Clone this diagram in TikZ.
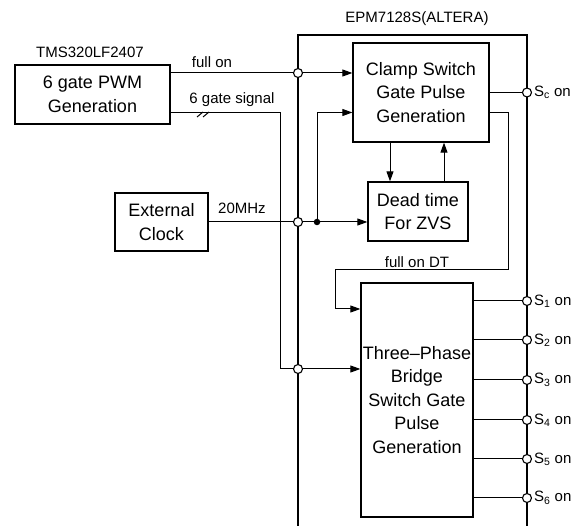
\documentclass[tikz,border=0pt]{standalone}
\usepackage{fontspec}
\setmainfont{Liberation Sans}
\usetikzlibrary{arrows.meta, positioning, calc}

\begin{document}
\begin{tikzpicture}[x=1pt, y=-1pt,
    block/.style={draw, line width=1.3pt, inner sep=1pt, align=center, font=\fontsize{18}{23.5}\selectfont},
    lbl/.style={font=\fontsize{15}{18}\selectfont, inner sep=1pt},
    wire/.style={line width=1pt},
    arr/.style={wire, -{Triangle[length=10pt, width=7pt]}},
    jct/.style={circle, draw, line width=1.1pt, fill=white, inner sep=0pt, minimum size=9pt},
    dotj/.style={circle, fill, inner sep=0pt, minimum size=6.5pt}
  ]
  \useasboundingbox (0,0) rectangle (582,526);

  % Blocks
  \node[block, minimum width=155pt, minimum height=59pt] (pwm) at (92.5,94.5) {6 gate PWM\\Generation};
  \node[block, minimum width=93pt, minimum height=58pt] (clk) at (161.5,222) {External\\Clock};
  \node[block, minimum width=136pt, minimum height=99pt] (clamp) at (421,92.5) {Clamp Switch\\Gate Pulse\\Generation};
  \node[block, minimum width=100pt, minimum height=59pt] (dead) at (418,211.5) {Dead time\\For ZVS};
  \node[block, minimum width=112pt, minimum height=234pt] (bridge) at (417,400) {Three--Phase\\Bridge\\Switch Gate\\Pulse\\Generation};

  % Chip labels
  \node[lbl] (tmslbl) at (90,52) {TMS320LF2407};
  \node[lbl] (epmlbl) at (417,19) {EPM7128S(ALTERA)};

  % EPM7128S outline
  \coordinate (epmL) at (298,526);
  \coordinate (epmT) at (527,35);
  \coordinate (epmR) at (527,526);
  \draw[line width=1.3pt] (epmL) |- (epmT) -- (epmR);

  % Junctions
  \coordinate (j1) at (298,73);
  \coordinate (j2) at (298,222);
  \coordinate (j3) at (298,369);
  \coordinate (d1) at (317,222);
  \coordinate (bend6) at (280,113);
  \coordinate (bus) at (203,113);

  % full on
  \draw[wire] (pwm.east |- j1) -- (j1);
  \draw[arr] (j1) -- (clamp.west |- j1);
  \node[lbl] (fulllbl) at (212,62) {full on};

  % 6 gate signal
  \draw[arr] (pwm.east |- bend6) -- (bend6) |- (bridge.west |- j3);
  \foreach \dx in {-3,3} {
    \draw[wire] ([xshift=\dx pt-3pt, yshift=-4pt]bus) -- ++(6pt,5pt);
  }
  \node[lbl] (sixlbl) at (232,100) {6 gate signal};

  % 20MHz clock
  \draw[arr] (clk.east) -- (dead.west |- clk.east);
  \draw[arr] (d1) |- ([yshift=-20pt]clamp.west);
  \node[lbl] (mhzlbl) at (242,208) {20MHz};

  % Clamp <-> dead time
  \coordinate (cdn) at ([xshift=-31pt]clamp.south);
  \coordinate (cup) at ([xshift=23pt]clamp.south);
  \draw[arr] (cdn) -- (cdn |- dead.north);
  \draw[arr] (cup |- dead.north) -- (cup);

  % full on DT
  \coordinate (fdtA) at (508,270);
  \coordinate (fdtB) at (335,270);
  \draw[arr] ([yshift=-20pt]clamp.east) -| (fdtA) -- (fdtB) |- ([yshift=91pt]bridge.west);
  \node[lbl, above=1pt] (fdtlbl) at ($(fdtA)!0.526!(fdtB)$) {full on DT};

  % Outputs
  \coordinate (sc) at (527,92.5);
  \draw[wire] (clamp.east) -- (sc);
  \node[jct] (scj) at (sc) {};
  \node[lbl, anchor=west, xshift=6pt] (sclbl) at (sc) {S\textsubscript{c} on};
  \foreach \i/\y in {1/301, 2/340, 3/380, 4/420, 5/459, 6/498} {
    \coordinate (s\i) at (527,\y);
    \draw[wire] (bridge.east |- s\i) -- (s\i);
    \node[jct] at (s\i) {};
    \node[lbl, anchor=west, xshift=6pt] at (s\i) {S\textsubscript{\i} on};
  }

  \foreach \j in {j1, j2, j3} {
    \node[jct] at (\j) {};
  }
  \node[dotj] at (d1) {};
\end{tikzpicture}
\end{document}
